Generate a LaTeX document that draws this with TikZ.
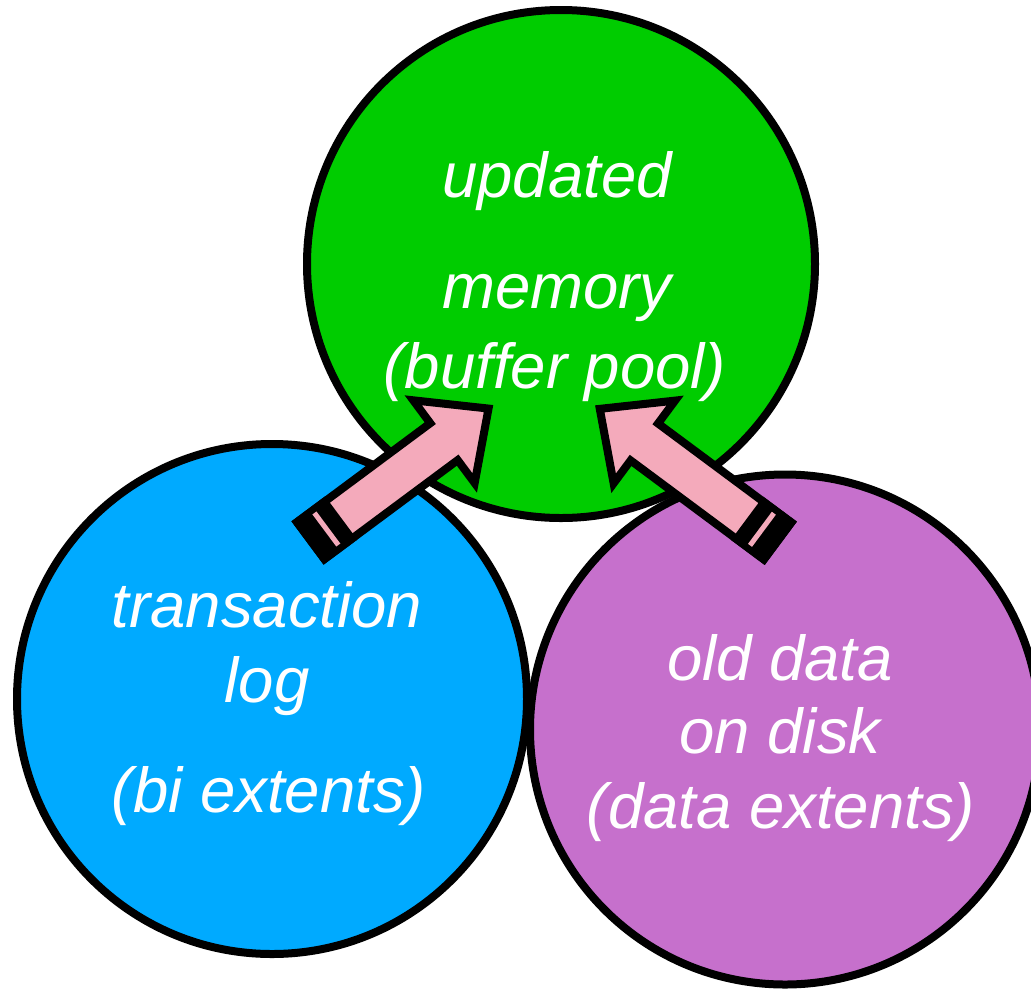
\documentclass[tikz,border=0pt]{standalone}
\usepackage{fontspec}
\setmainfont{Liberation Sans}
\definecolor{memgreen}{HTML}{00CC00}
\definecolor{logblue}{HTML}{00AAFF}
\definecolor{diskpurple}{HTML}{C670CC}
\definecolor{pinkfill}{HTML}{F4AABB}
\tikzset{
  disc/.style={circle, draw=black, line width=8pt, inner sep=0pt, minimum size=#1},
  lbl/.style={text=white, anchor=base, inner sep=0pt,
    font=\fontsize{63.5}{70}\selectfont\itshape},
  blockarrow/.style={fill=pinkfill, draw=black, line width=8pt, miter limit=10},
  % block arrow along local u axis, tail at origin
  bulkarrow/.pic={
    \path[blockarrow] (4,-23) -- (170,-23) -- (170,-51.5) -- (225.5,0)
      -- (170,51.5) -- (170,23) -- (4,23) -- cycle;
    \fill[black] (0,-27) rectangle (42,27);
    \fill[pinkfill] (21,-20) rectangle (26,20);
  }
}
\begin{document}
\begin{tikzpicture}[x=1pt,y=-1pt]
\useasboundingbox (0,0) rectangle (1031,989);
\clip (0,0) rectangle (1031,989);

% the three stores
\node[disc=510pt, fill=logblue] (log) at (272,699) {};
\node[disc=510pt, fill=diskpurple] (disk) at (785,729.5) {};
\node[disc=508pt, fill=memgreen] (mem) at (561,264) {};

% labels
\node[lbl] (memA) at (557,197) {updated};
\node[lbl] (memB) at (557,308) {memory};
\node[lbl] (memC) at (555,388) {(buffer pool)};

\node[lbl] (logA) at (267,627) {transaction};
\node[lbl] (logB) at (267,702) {log};
\node[lbl] (logC) at (269,812) {(bi extents)};

\node[lbl] (diskA) at (780,680) {old data};
\node[lbl] (diskB) at (780,753) {on disk};
\node[lbl] (diskC) at (781,828) {(data extents)};

% arrows feeding the buffer pool
\coordinate (logtail) at (307.5,543);
\coordinate (disktail) at (780.8,543.3);
\pic (logarrow) [rotate=36.6] at (logtail) {bulkarrow};
\pic (diskarrow) [rotate=143.4] at (disktail) {bulkarrow};
\end{tikzpicture}
\end{document}
